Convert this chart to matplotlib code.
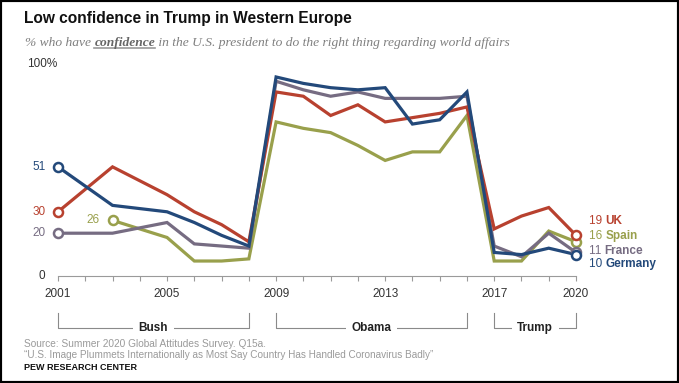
import matplotlib
matplotlib.use('Agg')
import matplotlib.pyplot as plt
from matplotlib.patches import Rectangle
from matplotlib.lines import Line2D

years = [2001, 2003, 2005, 2006, 2007, 2008, 2009, 2010, 2011, 2012,
         2013, 2014, 2015, 2016, 2017, 2018, 2019, 2020]
uk = [30, 51, 38, 30, 24, 16, 86, 84, 75, 80, 72, 74, 76, 79, 22, 28, 32, 19]
spain = [None, 26, 18, 7, 7, 8, 72, 69, 67, 61, 54, 58, 58, 75, 7, 7, 21, 16]
france = [20, 20, 25, 15, 14, 13, 91, 87, 84, 86, 83, 83, 83, 84, 14, 9, 20, 11]
germany = [51, 33, 30, 25, 19, 14, 93, 90, 88, 87, 88, 71, 73, 86, 11, 10, 13, 10]

countries = ['UK', 'Spain', 'France', 'Germany']
colors = {'UK': '#B8412F', 'Spain': '#99A04C', 'France': '#766C82', 'Germany': '#23497A'}
series = {'UK': uk, 'Spain': spain, 'France': france, 'Germany': germany}
draw_order = ['Spain', 'France', 'UK', 'Germany']
# where the end labels sit (data units), spread so they don't collide
end_label_y = {'UK': 25.7, 'Spain': 18.7, 'France': 11.7, 'Germany': 5.6}

tick_years = [2001, 2005, 2009, 2013, 2017, 2020]
terms = [('Bush', 2001, 2008), ('Obama', 2009, 2016), ('Trump', 2017, 2020)]

W, H = 679, 383
fig = plt.figure(figsize=(W / 100, H / 100), dpi=100)
fig.patch.set_facecolor('white')
ax = fig.add_axes([58 / W, 1 - 276 / H, (576 - 58) / W, (276 - 62) / H])
ax.set_xlim(2001, 2020)
ax.set_ylim(0, 100)

sans = ['Liberation Sans', 'DejaVu Sans']
narrow = ['Liberation Sans Narrow', 'Liberation Sans', 'DejaVu Sans']

for c in draw_order:
    xs = [x for x, v in zip(years, series[c]) if v is not None]
    vs = [v for v in series[c] if v is not None]
    ax.plot(xs, vs, color=colors[c], lw=2.3, solid_joinstyle='miter', clip_on=False, zorder=3)
    # open circles at first and last points
    ax.plot([xs[0], xs[-1]], [vs[0], vs[-1]], 'o', ms=6.5, mfc='white', mec=colors[c],
            mew=1.8, clip_on=False, zorder=4)
    ax.annotate(str(vs[0]), (xs[0], vs[0]), xytext=(-9, 0), textcoords='offset points',
                ha='right', va='center', fontsize=8.5, color=colors[c], family=sans)

for s in ['top', 'right', 'left']:
    ax.spines[s].set_visible(False)
ax.spines['bottom'].set_color('#9a9a9a')
ax.spines['bottom'].set_linewidth(0.8)
ax.set_yticks([])
ax.set_xticks(list(range(2001, 2021)))
ax.set_xticklabels([str(y) if y in tick_years else '' for y in range(2001, 2021)],
                   fontsize=8.5, color='#333333', family=sans)
ax.tick_params(axis='x', length=3.5, width=0.8, color='#9a9a9a', pad=5)

ax.annotate('0', (2001, 0), xytext=(-9, 0), textcoords='offset points',
            ha='right', va='center', fontsize=8.5, color='#333333', family=sans)
fig.text(27 / W, 1 - 64 / H, '100%', ha='left', va='center', fontsize=8.5,
         color='#333333', family=sans)

# presidential term brackets
for name, x0, x1 in terms:
    ax.plot([x0, x0, x1, x1], [-17.3, -24.2, -24.2, -17.3], color='#8a8a8a', lw=0.8,
            clip_on=False)
    ax.text((x0 + x1) / 2, -24.2, name, ha='center', va='center', fontsize=8.5,
            fontweight='bold', family=narrow, color='#222222',
            bbox=dict(facecolor='white', edgecolor='none', pad=4))

r = fig.canvas.get_renderer()


def chain(x_px, y_px, parts, size, family, va='center'):
    for txt, col, weight, style in parts:
        t = fig.text(x_px / W, 1 - y_px / H, txt, ha='left', va=va, fontsize=size,
                     color=col, fontweight=weight, style=style, family=family)
        bb = t.get_window_extent(renderer=r)
        yield t, bb
        x_px = bb.x1


# end labels
for c in countries:
    ypx = ax.transData.transform((2020, end_label_y[c]))[1]
    list(chain(589, H - ypx, [(str(series[c][-1]) + ' ', colors[c], 'normal', 'normal'),
                              (c, colors[c], 'bold', 'normal')], 8.5, sans))

# title / subtitle
fig.text(24 / W, 1 - 18 / H, 'Low confidence in Trump in Western Europe', ha='left',
         va='center', fontsize=11.2, fontweight='bold', family=sans, color='#111111')
serif = ['Liberation Serif', 'DejaVu Serif']
out = list(chain(25, 43, [('% who have ', '#7f7f7f', 'normal', 'italic'),
                          ('confidence', '#666666', 'bold', 'italic'),
                          (' in the U.S. president to do the right thing regarding world affairs',
                           '#7f7f7f', 'normal', 'italic')], 9.7, serif))
ub = out[1][1]
fig.add_artist(Line2D([ub.x0 / W, ub.x1 / W], [(ub.y0 + 1) / H, (ub.y0 + 1) / H],
                      color='#9a9a9a', lw=1.2, transform=fig.transFigure))

# footer
fig.text(24 / W, 1 - 344 / H, 'Source: Summer 2020 Global Attitudes Survey. Q15a.',
         ha='left', va='center', fontsize=7.3, color='#9a9a9a', family=sans)
fig.text(24 / W, 1 - 354.5 / H,
         '\u201cU.S. Image Plummets Internationally as Most Say Country Has Handled Coronavirus Badly\u201d',
         ha='left', va='center', fontsize=7.2, color='#9a9a9a', family=sans)
fig.text(24 / W, 1 - 367 / H, 'PEW RESEARCH CENTER', ha='left', va='center',
         fontsize=6.5, fontweight='bold', color='#111111', family=sans)

fig.add_artist(Rectangle((0, 0), 1, 1, transform=fig.transFigure, fill=False,
                         lw=3, ec='black'))

fig.savefig('out.png', dpi=100)
